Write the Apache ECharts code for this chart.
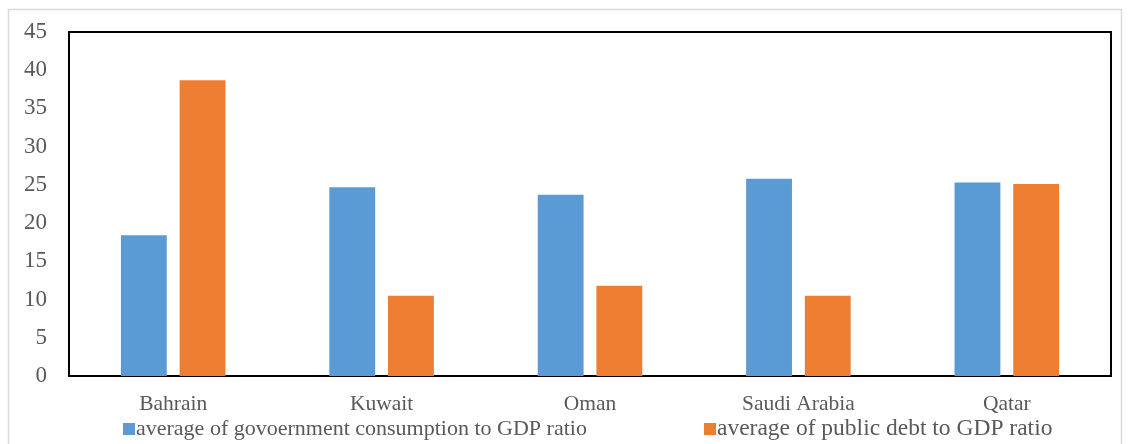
<!DOCTYPE html>
<html>
<head>
<meta charset="utf-8">
<script src="https://cdn.jsdelivr.net/npm/echarts@6/dist/echarts.min.js"></script>
<style>
  html, body { margin: 0; padding: 0; background: #fff; }
  #chart { width: 1129px; height: 444px; }
</style>
</head>
<body>
<div id="chart"></div>
<script>
var countries = ['Bahrain', 'Kuwait', 'Oman', 'Saudi Arabia', 'Qatar'];
var govConsumption = [18.4, 24.7, 23.7, 25.8, 25.3];
var publicDebt = [38.7, 10.5, 11.8, 10.5, 25.1];
var seriesNames = ['average of govoernment consumption to GDP ratio', 'average of public debt to GDP ratio'];

var font = '"Liberation Serif", "Times New Roman", serif';
var myChart = echarts.init(document.getElementById('chart'));
var option = {
  animation: false,
  textStyle: { fontFamily: font },
  graphic: [{
    type: 'rect',
    shape: { x: 8.5, y: 9.5, width: 1113, height: 440 },
    style: { fill: 'none', stroke: '#d9d9d9', lineWidth: 1.5 },
    silent: true
  }],
  grid: {
    left: 69, right: 18, top: 32, bottom: 68,
    show: true, borderColor: '#000', borderWidth: 2, backgroundColor: 'transparent'
  },
  legend: [{
    data: [seriesNames[0]],
    left: 118, top: 413,
    itemWidth: 12, itemHeight: 12,
    icon: 'rect',
    textStyle: { fontFamily: font, fontSize: 22, color: '#595959', padding: [0, 0, 0, -4] }
  }, {
    data: [seriesNames[1]],
    left: 699, top: 412,
    itemWidth: 12, itemHeight: 12,
    icon: 'rect',
    textStyle: { fontFamily: font, fontSize: 23.5, color: '#595959', padding: [0, 0, 0, -4] }
  }],
  xAxis: {
    type: 'category',
    data: countries,
    axisLine: { lineStyle: { color: '#000', width: 2 } },
    axisTick: { show: false },
    axisLabel: { fontFamily: font, fontSize: 21.5, color: '#595959', margin: 17 }
  },
  yAxis: {
    type: 'value',
    min: 0, max: 45, interval: 5,
    splitLine: { show: false },
    axisLine: { show: false },
    axisTick: { show: false },
    axisLabel: { fontFamily: font, fontSize: 23, color: '#595959', margin: 22 }
  },
  series: [{
    name: seriesNames[0],
    type: 'bar',
    data: govConsumption,
    barWidth: '22%',
    barGap: '28%',
    itemStyle: { color: '#5b9bd5' }
  }, {
    name: seriesNames[1],
    type: 'bar',
    data: publicDebt,
    barWidth: '22%',
    itemStyle: { color: '#ed7d31' }
  }]
};
myChart.setOption(option);
</script>
</body>
</html>
